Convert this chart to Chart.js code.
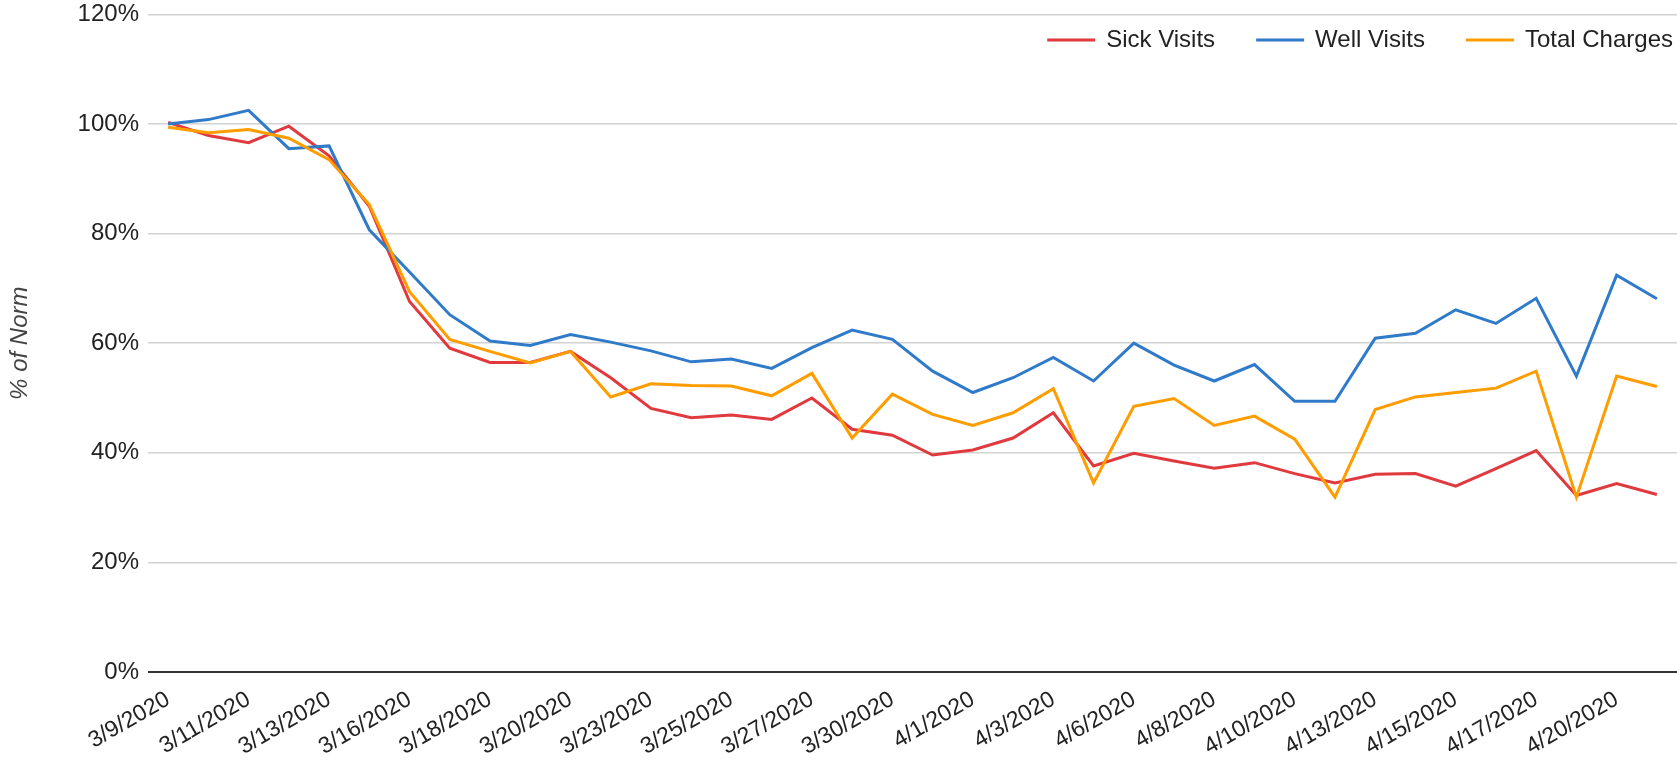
<!DOCTYPE html>
<html>
<head>
<meta charset="utf-8">
<title>% of Norm</title>
<script src="https://cdn.jsdelivr.net/npm/chart.js@4/dist/chart.umd.min.js"></script>
<style>
  html, body { margin: 0; padding: 0; background: #fff; }
  #wrap { width: 1677px; height: 766px; position: relative; }
</style>
</head>
<body>
<div id="wrap"><canvas id="norm"></canvas></div>
<script>
// one point per working day (Mon-Sat), only every other date is labelled
var dates = [
  '3/9/2020', '3/10/2020', '3/11/2020', '3/12/2020', '3/13/2020', '3/14/2020',
  '3/16/2020', '3/17/2020', '3/18/2020', '3/19/2020', '3/20/2020', '3/21/2020',
  '3/23/2020', '3/24/2020', '3/25/2020', '3/26/2020', '3/27/2020', '3/28/2020',
  '3/30/2020', '3/31/2020', '4/1/2020', '4/2/2020', '4/3/2020', '4/4/2020',
  '4/6/2020', '4/7/2020', '4/8/2020', '4/9/2020', '4/10/2020', '4/11/2020',
  '4/13/2020', '4/14/2020', '4/15/2020', '4/16/2020', '4/17/2020', '4/18/2020',
  '4/20/2020', '4/21/2020'
];

var sickVisits = [
  100.3, 97.9, 96.6, 99.6, 94.2, 85.0,
  67.6, 59.1, 56.5, 56.5, 58.5, 53.7,
  48.1, 46.4, 46.9, 46.1, 50.0, 44.3,
  43.2, 39.6, 40.5, 42.7, 47.3, 37.6,
  39.9, 38.5, 37.2, 38.2, 36.2, 34.5,
  36.1, 36.2, 33.9, 37.1, 40.4, 32.2,
  34.4, 32.4
];

var wellVisits = [
  100.0, 100.8, 102.5, 95.5, 96.0, 80.7,
  73.0, 65.2, 60.4, 59.6, 61.6, 60.2,
  58.6, 56.6, 57.1, 55.4, 59.2, 62.4,
  60.7, 54.9, 51.0, 53.7, 57.4, 53.1,
  60.0, 56.0, 53.1, 56.1, 49.4, 49.4,
  60.9, 61.8, 66.1, 63.6, 68.2, 54.0,
  72.4, 68.1
];

var totalCharges = [
  99.4, 98.4, 99.0, 97.4, 93.5, 85.3,
  69.4, 60.7, 58.5, 56.4, 58.5, 50.2,
  52.6, 52.3, 52.2, 50.4, 54.5, 42.7,
  50.7, 47.0, 45.0, 47.3, 51.7, 34.5,
  48.5, 49.9, 45.0, 46.7, 42.5, 31.9,
  47.9, 50.2, 51.0, 51.8, 54.9, 31.9,
  54.0, 52.1
];

var yTicks = [0, 20, 40, 60, 80, 100, 120];

var FONT = '"Liberation Sans", Arial, sans-serif';
Chart.defaults.font.family = FONT;

// legend sits inside the plot, top right, like the original
var topLegend = {
  id: 'topLegend',
  afterDraw: function(chart) {
    var ctx = chart.ctx;
    var sets = chart.data.datasets;
    var lineLen = 48, gap = 11, spacing = 41, y = 40;
    ctx.save();
    ctx.font = '24px ' + FONT;
    ctx.textBaseline = 'middle';
    var total = 0;
    sets.forEach(function(d, i) {
      total += lineLen + gap + ctx.measureText(d.label).width + (i ? spacing : 0);
    });
    var x = chart.width - 4 - total;
    sets.forEach(function(d) {
      ctx.strokeStyle = d.borderColor;
      ctx.lineWidth = 3;
      ctx.beginPath();
      ctx.moveTo(x, y);
      ctx.lineTo(x + lineLen, y);
      ctx.stroke();
      x += lineLen + gap;
      ctx.fillStyle = '#222';
      ctx.fillText(d.label, x, y);
      x += ctx.measureText(d.label).width + spacing;
    });
    ctx.restore();
  }
};

window.onload = function() {
  var ctx = document.getElementById('norm').getContext('2d');
  window.myChart = new Chart(ctx, {
    type: 'line',
    data: {
      labels: dates,
      datasets: [{
        label: 'Sick Visits',
        data: sickVisits,
        borderColor: '#e0393e',
        backgroundColor: '#e0393e',
        order: 3
      }, {
        label: 'Well Visits',
        data: wellVisits,
        borderColor: '#2f7bc9',
        backgroundColor: '#2f7bc9',
        order: 2
      }, {
        label: 'Total Charges',
        data: totalCharges,
        borderColor: '#ff9d00',
        backgroundColor: '#ff9d00',
        order: 1
      }]
    },
    options: {
      responsive: true,
      maintainAspectRatio: false,
      animation: false,
      layout: { padding: { top: 14, right: 0, left: 0, bottom: 0 } },
      elements: {
        line: { borderWidth: 3, tension: 0 },
        point: { radius: 0, hoverRadius: 0 }
      },
      plugins: {
        legend: { display: false },
        tooltip: { enabled: false }
      },
      scales: {
        x: {
          offset: true,
          grid: { display: false },
          border: { display: false },
          afterFit: function(s) { s.height = 94; },
          ticks: {
            autoSkip: false,
            maxRotation: 30,
            minRotation: 30,
            padding: 6,
            color: '#222',
            font: { size: 23 },
            callback: function(v, i) { return i % 2 ? '' : this.getLabelForValue(v); }
          }
        },
        y: {
          min: 0,
          max: 120,
          afterFit: function(s) { s.width = 148; },
          afterBuildTicks: function(s) { s.ticks = yTicks.map(function(v) { return { value: v }; }); },
          border: { display: false },
          grid: {
            // invisible tick marks keep the labels off the plot without adding top padding
            drawTicks: true,
            tickLength: 9,
            tickColor: 'rgba(0,0,0,0)',
            lineWidth: function(c) { return c.tick && c.tick.value === 0 ? 2 : 1.5; },
            color: function(c) { return c.tick && c.tick.value === 0 ? '#333' : '#d2d2d2'; }
          },
          ticks: {
            padding: 0,
            color: '#222',
            font: { size: 24 },
            callback: function(v) { return v + '%'; }
          },
          title: {
            display: true,
            text: '% of Norm',
            color: '#444',
            padding: { top: 6, bottom: 0 },
            font: { size: 24, style: 'italic' }
          }
        }
      }
    },
    plugins: [topLegend]
  });
};
</script>
</body>
</html>
